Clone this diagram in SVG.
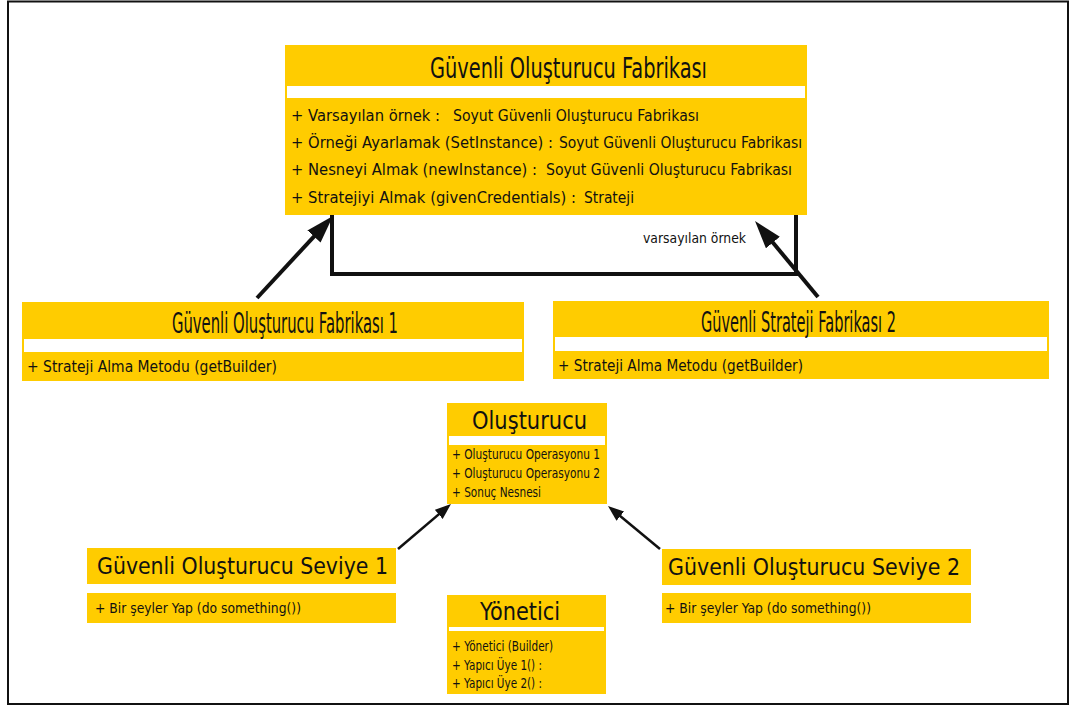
<svg xmlns="http://www.w3.org/2000/svg" width="1071" height="707" viewBox="0 0 1071 707">
  <style>
    .band { fill: #ffcc00; }
    .gap { fill: #ffffff; }
    text { font-family: "DejaVu Sans", "Liberation Sans", sans-serif; fill: #111111; }
    .t29 { font-size: 29px; }
    .t28 { font-size: 28px; }
    .t25 { font-size: 25px; }
    .t23 { font-size: 23px; }
    .t16 { font-size: 16px; }
    .t14 { font-size: 14px; }
    .t13 { font-size: 13.5px; }
    .wire { fill: none; stroke: #111111; stroke-linecap: butt; stroke-linejoin: miter; }
  </style>
  <defs>
    <marker id="bigHead" markerUnits="userSpaceOnUse" markerWidth="30" markerHeight="20" refX="18" refY="9" orient="auto">
      <path d="M0,0 L28,9 L0,18 z" fill="#111111"/>
    </marker>
    <marker id="smallHead" markerUnits="userSpaceOnUse" markerWidth="18" markerHeight="14" refX="10" refY="6" orient="auto">
      <path d="M0,0 L16,6 L0,12 z" fill="#111111"/>
    </marker>
  </defs>

  <rect x="0" y="0" width="1071" height="707" fill="#ffffff"/>
  <!-- outer frame -->
  <rect x="8" y="1.5" width="1060" height="702.5" fill="none" stroke="#111111" stroke-width="2"/>

  <!-- abstract factory -->
  <g id="guvenli-olusturucu-fabrikasi">
    <rect class="band" x="285" y="45" width="522" height="170"/>
    <rect class="gap" x="287" y="86" width="518" height="12"/>
    <text class="t29" x="430" y="78" textLength="277" lengthAdjust="spacingAndGlyphs">Güvenli Oluşturucu Fabrikası</text>
    <text class="t16" x="291" y="121" textLength="149" lengthAdjust="spacingAndGlyphs">+ Varsayılan örnek :</text>
    <text class="t16" x="453" y="121" textLength="246" lengthAdjust="spacingAndGlyphs">Soyut Güvenli Oluşturucu Fabrikası</text>
    <text class="t16" x="291" y="148" textLength="262" lengthAdjust="spacingAndGlyphs">+ Örneği Ayarlamak (SetInstance) :</text>
    <text class="t16" x="559" y="148" textLength="243" lengthAdjust="spacingAndGlyphs">Soyut Güvenli Oluşturucu Fabrikası</text>
    <text class="t16" x="291" y="175" textLength="246" lengthAdjust="spacingAndGlyphs">+ Nesneyi Almak (newInstance) :</text>
    <text class="t16" x="546" y="175" textLength="246" lengthAdjust="spacingAndGlyphs">Soyut Güvenli Oluşturucu Fabrikası</text>
    <text class="t16" x="291" y="203" textLength="285" lengthAdjust="spacingAndGlyphs">+ Stratejiyi Almak (givenCredentials) :</text>
    <text class="t16" x="584" y="203" textLength="50" lengthAdjust="spacingAndGlyphs">Strateji</text>
  </g>

  <!-- concrete factory 1 -->
  <g id="guvenli-olusturucu-fabrikasi-1">
    <rect class="band" x="22" y="302" width="502" height="79"/>
    <rect class="gap" x="24" y="339" width="498" height="13"/>
    <text class="t28" x="172" y="333" textLength="226" lengthAdjust="spacingAndGlyphs">Güvenli Oluşturucu Fabrikası 1</text>
    <text class="t16" x="27" y="372" textLength="250" lengthAdjust="spacingAndGlyphs">+ Strateji Alma Metodu (getBuilder)</text>
  </g>

  <!-- concrete factory 2 -->
  <g id="guvenli-strateji-fabrikasi-2">
    <rect class="band" x="553" y="301" width="496" height="78"/>
    <rect class="gap" x="555" y="337" width="492" height="14"/>
    <text class="t28" x="701" y="332" textLength="195" lengthAdjust="spacingAndGlyphs">Güvenli Strateji Fabrikası 2</text>
    <text class="t16" x="558" y="371" textLength="245" lengthAdjust="spacingAndGlyphs">+ Strateji Alma Metodu (getBuilder)</text>
  </g>

  <!-- builder interface -->
  <g id="olusturucu">
    <rect class="band" x="447" y="403" width="160" height="101"/>
    <rect class="gap" x="449" y="436" width="156" height="9"/>
    <text class="t25" x="472" y="429" textLength="115" lengthAdjust="spacingAndGlyphs">Oluşturucu</text>
    <text class="t13" x="452" y="459" textLength="148" lengthAdjust="spacingAndGlyphs">+ Oluşturucu Operasyonu 1</text>
    <text class="t13" x="452" y="478" textLength="148" lengthAdjust="spacingAndGlyphs">+ Oluşturucu Operasyonu 2</text>
    <text class="t13" x="452" y="497" textLength="89" lengthAdjust="spacingAndGlyphs">+ Sonuç Nesnesi</text>
  </g>

  <!-- concrete builder 1 -->
  <g id="guvenli-olusturucu-seviye-1">
    <rect class="band" x="87" y="548" width="309" height="36"/>
    <rect class="band" x="87" y="593" width="309" height="30"/>
    <text class="t23" x="97" y="574" textLength="291" lengthAdjust="spacingAndGlyphs">Güvenli Oluşturucu Seviye 1</text>
    <text class="t14" x="95" y="613" textLength="206" lengthAdjust="spacingAndGlyphs">+ Bir şeyler Yap (do something())</text>
  </g>

  <!-- concrete builder 2 -->
  <g id="guvenli-olusturucu-seviye-2">
    <rect class="band" x="662" y="549" width="309" height="36"/>
    <rect class="band" x="662" y="593" width="309" height="30"/>
    <text class="t23" x="668" y="575" textLength="292" lengthAdjust="spacingAndGlyphs">Güvenli Oluşturucu Seviye 2</text>
    <text class="t14" x="665" y="613" textLength="206" lengthAdjust="spacingAndGlyphs">+ Bir şeyler Yap (do something())</text>
  </g>

  <!-- director -->
  <g id="yonetici">
    <rect class="band" x="447" y="595" width="159" height="99"/>
    <rect class="gap" x="449" y="627" width="155" height="4"/>
    <text class="t25" x="480" y="620" textLength="80" lengthAdjust="spacingAndGlyphs">Yönetici</text>
    <text class="t13" x="452" y="651" textLength="101" lengthAdjust="spacingAndGlyphs">+ Yönetici (Builder)</text>
    <text class="t13" x="452" y="670" textLength="90" lengthAdjust="spacingAndGlyphs">+ Yapıcı Üye 1() :</text>
    <text class="t13" x="452" y="688" textLength="90" lengthAdjust="spacingAndGlyphs">+ Yapıcı Üye 2() :</text>
  </g>

  <!-- connectors -->
  <g id="connectors">
    <polyline class="wire" stroke-width="4" points="332,215 332,274 796,274 796,215"/>
    <line class="wire" stroke-width="4" x1="257" y1="298" x2="326.2" y2="223.3" marker-end="url(#bigHead)"/>
    <line class="wire" stroke-width="4" x1="818" y1="297" x2="761.4" y2="228.7" marker-end="url(#bigHead)"/>
    <text class="t13" x="643" y="243" textLength="103" lengthAdjust="spacingAndGlyphs">varsayılan örnek</text>
    <line class="wire" stroke-width="2.5" x1="398" y1="549" x2="446.4" y2="507.9" marker-end="url(#smallHead)"/>
    <line class="wire" stroke-width="2.5" x1="660" y1="549" x2="612.6" y2="509.8" marker-end="url(#smallHead)"/>
  </g>
</svg>
